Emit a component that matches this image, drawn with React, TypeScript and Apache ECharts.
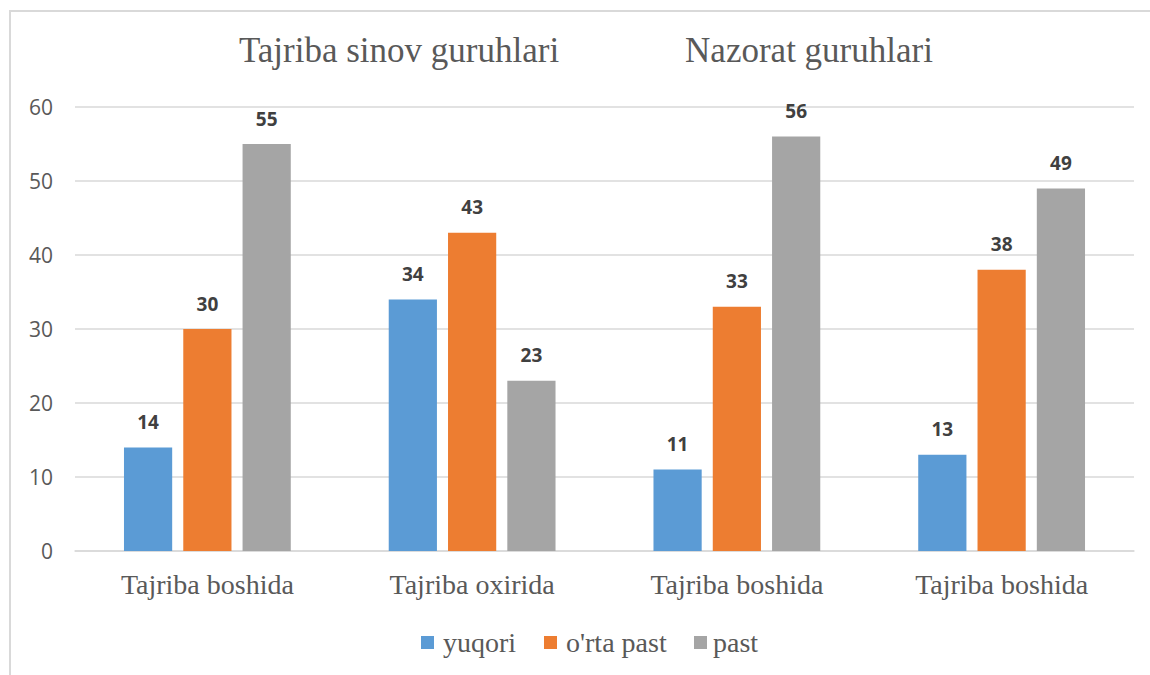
import React, { useEffect, useRef } from "react";
import * as echarts from "echarts";

const categories = ["Tajriba boshida", "Tajriba oxirida", "Tajriba boshida", "Tajriba boshida"];
const yuqori = [14, 34, 11, 13];
const ortaPast = [30, 43, 33, 38];
const past = [55, 23, 56, 49];
const seriesNames = ["yuqori", "o'rta past", "past"];
const titles = ["Tajriba sinov guruhlari", "Nazorat guruhlari"];
const legendIconX = [421, 544, 694];
const legendTextX = [443, 566, 713];

export default function App() {
  const ref = useRef<HTMLDivElement>(null);
  useEffect(() => {
    if (!ref.current) return;
    const chart = echarts.init(ref.current, null, { renderer: "svg" });
    const mk = (name: string, data: number[], color: string) => ({
      name,
      type: "bar",
      data,
      itemStyle: { color },
      label: {
        show: true,
        position: "top",
        distance: 16,
        fontFamily: "Open Sans",
        fontWeight: "bold",
        fontSize: 19,
        color: "#404040",
      },
      barGap: "23%",
      barCategoryGap: "37%",
    });
    const titleText = (t: string, x: number) => ({
      type: "text",
      x,
      y: 50,
      style: {
        text: t,
        font: "35px 'Liberation Serif'",
        fill: "#595959",
        align: "center",
        verticalAlign: "middle",
      },
    });
    const legendLabels = seriesNames.map((n, i) => ({
      type: "text",
      x: legendTextX[i],
      y: 642,
      style: {
        text: n,
        font: "28px 'Liberation Serif'",
        fill: "#595959",
        align: "left",
        verticalAlign: "middle",
      },
    }));
    const legends = seriesNames.map((n, i) => ({
      left: legendIconX[i],
      top: 636,
      padding: 0,
      itemWidth: 13,
      itemHeight: 13,
      icon: "rect",
      formatter: () => "",
      textStyle: { fontSize: 10 },
      data: [n],
    }));
    chart.setOption({
      animation: false,
      backgroundColor: "#fff",
      graphic: [
        {
          type: "rect",
          shape: { x: 10, y: 11, width: 1200, height: 700 },
          style: { fill: "none", stroke: "#D9D9D9", lineWidth: 2 },
        },
        titleText(titles[0], 399),
        titleText(titles[1], 809),
        ...legendLabels,
      ],
      legend: legends,
      grid: { left: 75, right: 16, top: 107, bottom: 124 },
      xAxis: {
        type: "category",
        data: categories,
        axisLine: { lineStyle: { color: "#D9D9D9", width: 1.5 } },
        axisTick: { show: false },
        axisLabel: {
          fontFamily: "Liberation Serif",
          fontSize: 28,
          color: "#595959",
          margin: 19,
        },
      },
      yAxis: {
        type: "value",
        min: 0,
        max: 60,
        interval: 10,
        axisLine: { show: false },
        axisTick: { show: false },
        splitLine: { lineStyle: { color: "#D9D9D9", width: 1.5 } },
        axisLabel: { fontFamily: "Open Sans", fontSize: 21, color: "#595959", margin: 22 },
      },
      series: [
        mk(seriesNames[0], yuqori, "#5B9BD5"),
        mk(seriesNames[1], ortaPast, "#ED7D31"),
        mk(seriesNames[2], past, "#A5A5A5"),
      ],
    });
    return () => chart.dispose();
  }, []);
  return (
    <div
      ref={ref}
      style={{ position: "absolute", left: 0, top: 0, width: 1150, height: 675 }}
    />
  );
}
